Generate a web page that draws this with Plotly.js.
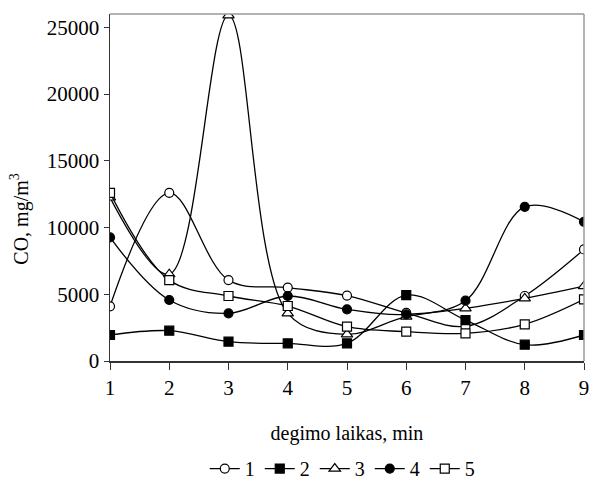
<!DOCTYPE html>
<html><head><meta charset="utf-8">
<script src="https://cdn.plot.ly/plotly-3.0.1.min.js"></script>
<style>body{margin:0;padding:0;background:#fff}#chart{width:590px;height:483px}</style>
</head><body><div id="chart"></div>
<script>
const minutes = [1,2,3,4,5,6,7,8,9];
const series1 = [4100,12600,6060,5500,4900,3600,2600,4870,8360];
const series2 = [1950,2270,1450,1320,1320,4940,3070,1220,1950];
const series3 = [12250,6500,25900,3570,2000,3320,3940,4690,5610];
const series4 = [9260,4570,3570,4870,3870,3490,4520,11550,10430];
const series5 = [12600,6060,4870,4120,2570,2200,2070,2750,4620];
const yTicks = [0,5000,10000,15000,20000,25000];
const names = ['1','2','3','4','5'];
const symbols = ['circle','square','triangle-up','circle','square'];
const filled = [false,true,false,true,false];
const allSeries = [series1,series2,series3,series4,series5];

const traces = allSeries.map((s,i)=>({
  x: minutes, y: s, name: names[i], type:'scatter', mode:'lines+markers',
  line:{color:'#000', width:1.3, shape:'spline', smoothing:1},
  marker:{symbol:symbols[i], size: symbols[i]==='triangle-up'?10:9,
    color: filled[i]?'#000':'#fff', line:{color:'#000', width:1.2}}
}));

const fam = '"Liberation Serif","Times New Roman",serif';
const layout = {
  width:590, height:483,
  margin:{l:110, r:6, t:14, b:122, autoexpand:false},
  paper_bgcolor:'#fff', plot_bgcolor:'#fff',
  font:{family:fam, size:20, color:'#000'},
  showlegend:true,
  legend:{orientation:'h', x:0.49, xanchor:'center', y:-0.31, yanchor:'middle',
    font:{family:fam, size:20, color:'#000'}, itemwidth:30},
  xaxis:{range:[1,9], tickvals:minutes, ticks:'outside', ticklen:7, tickcolor:'#333',
    showline:true, linecolor:'#333', linewidth:1.5, showgrid:false, zeroline:false,
    tickfont:{family:fam,size:21,color:'#000'},
    title:{text:'degimo laikas, min', font:{family:fam,size:20,color:'#000'}, standoff:27}},
  yaxis:{range:[0,26000], tickvals:yTicks, tickformat:'d', ticks:'outside', ticklen:5, tickcolor:'#333',
    showline:true, linecolor:'#333', linewidth:1.5, showgrid:false, zeroline:false,
    tickfont:{family:fam,size:21,color:'#000'}},
  annotations:[
    {text:'CO, mg/m<sup>3</sup>', xref:'paper', yref:'paper', x:-0.19, y:0.41, xanchor:'center', yanchor:'middle',
     textangle:-90, showarrow:false, font:{family:fam,size:20,color:'#000'}}
  ],
  shapes:[
    {type:'line', xref:'paper', yref:'paper', x0:0, x1:1, y0:1, y1:1, line:{color:'#999', width:1.5}},
    {type:'line', xref:'paper', yref:'paper', x0:1, x1:1, y0:0, y1:1, line:{color:'#999', width:1.5}}
  ]
};
Plotly.newPlot('chart', traces, layout, {displayModeBar:false, staticPlot:true});
</script></body></html>
